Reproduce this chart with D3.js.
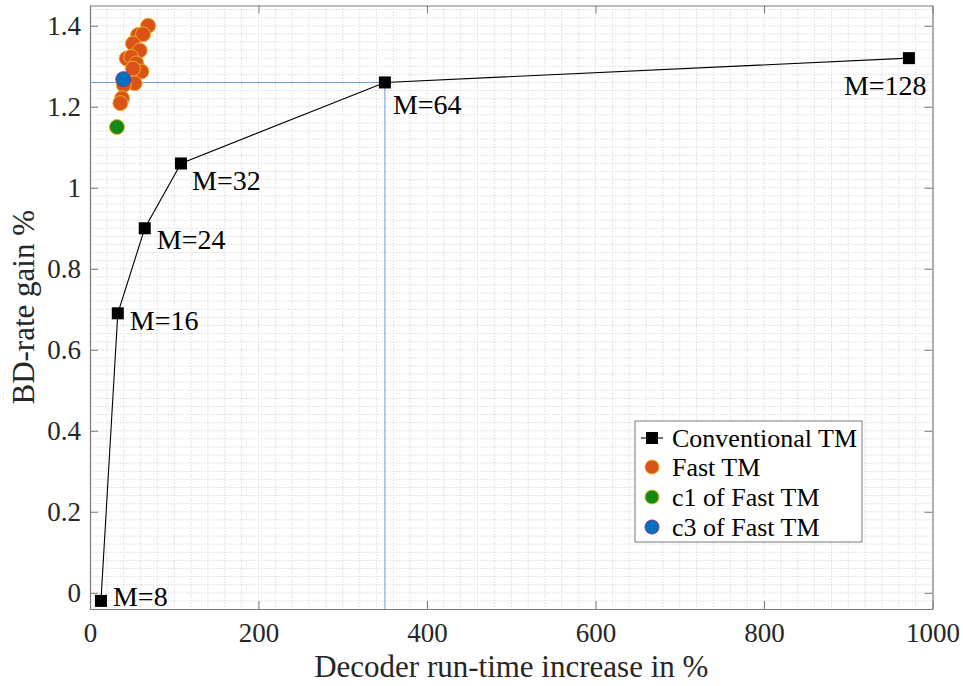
<!DOCTYPE html>
<html>
<head>
<meta charset="utf-8">
<script src="https://cdn.jsdelivr.net/npm/d3@7"></script>
<style>
  html, body { margin: 0; padding: 0; background: #fff; }
  svg { display: block; }
  svg text { font-family: "Liberation Serif", "Times New Roman", serif; }
</style>
</head>
<body>
<svg id="chart" width="963" height="686"></svg>
<script>
// Conventional template matching: window size M vs. run-time / gain
const convLabels = ["M=8", "M=16", "M=24", "M=32", "M=64", "M=128"];
const convTime   = [13, 33, 65, 108, 350, 972];
const convGain   = [-0.02, 0.69, 0.90, 1.06, 1.26, 1.32];

// Fast template matching configurations
const fastTime = [69, 57, 63, 51, 59, 43.5, 49, 55, 61, 51, 53, 40, 38, 36];
const fastGain = [1.40, 1.377, 1.379, 1.356, 1.339, 1.319, 1.323, 1.307, 1.287, 1.294, 1.258, 1.254, 1.221, 1.209];

const c1Time = [32],   c1Gain = [1.15];
const c3Time = [39.5], c3Gain = [1.268];

const xTicks = [0, 200, 400, 600, 800, 1000];
const yTicks = [0, 0.2, 0.4, 0.6, 0.8, 1, 1.2, 1.4];
const legendNames = ["Conventional TM", "Fast TM", "c1 of Fast TM", "c3 of Fast TM"];

const FONT = "'Liberation Serif', 'Times New Roman', serif";
const svg = d3.select("#chart");
const plot = { left: 90, right: 932.5, top: 5.5, bottom: 609 };

const x = d3.scaleLinear().domain([0, 1000]).range([plot.left, plot.right]);
const y = d3.scaleLinear().domain([-0.04, 1.45]).range([plot.bottom, plot.top]);

// minor grid (dotted)
const grid = svg.append("g");
d3.range(20, 1000, 20).forEach(v => {
  grid.append("line").attr("x1", x(v)).attr("x2", x(v)).attr("y1", plot.top).attr("y2", plot.bottom)
    .attr("stroke", "#dcdcdc").attr("stroke-width", 1).attr("stroke-dasharray", "1.5,1.5");
});
d3.range(-2, 145, 2).map(v => v / 100).filter(v => v > -0.04 && v < 1.45).forEach(v => {
  grid.append("line").attr("x1", plot.left).attr("x2", plot.right).attr("y1", y(v)).attr("y2", y(v))
    .attr("stroke", "#dcdcdc").attr("stroke-width", 1).attr("stroke-dasharray", "1.5,1.5");
});

// axes with inward ticks on all four sides
const tickLen = 8;
const axisColor = "#7a7a7a";
const axB = svg.append("g").attr("transform", `translate(0,${plot.bottom})`)
  .call(d3.axisBottom(x).tickValues(xTicks).tickSizeInner(-tickLen).tickSizeOuter(0).tickPadding(14).tickFormat(d3.format("d")));
const axT = svg.append("g").attr("transform", `translate(0,${plot.top})`)
  .call(d3.axisTop(x).tickValues(xTicks).tickSizeInner(-tickLen).tickSizeOuter(0).tickFormat(""));
const axL = svg.append("g").attr("transform", `translate(${plot.left},0)`)
  .call(d3.axisLeft(y).tickValues(yTicks).tickSizeInner(-tickLen).tickSizeOuter(0).tickPadding(9).tickFormat(d => String(+d.toFixed(1))));
const axR = svg.append("g").attr("transform", `translate(${plot.right},0)`)
  .call(d3.axisRight(y).tickValues(yTicks).tickSizeInner(-tickLen).tickSizeOuter(0).tickFormat(""));
[axB, axT, axL, axR].forEach(a => {
  a.attr("font-family", FONT).attr("font-size", 27);
  a.select(".domain").attr("stroke", axisColor).attr("stroke-width", 1.2);
  a.selectAll(".tick line").attr("stroke", axisColor).attr("stroke-width", 1);
  a.selectAll(".tick text").attr("fill", "#262626");
});
axB.selectAll(".tick text").attr("dy", "0.71em");

// axis titles
svg.append("text").attr("x", (plot.left + plot.right) / 2).attr("y", 677)
  .attr("text-anchor", "middle").attr("fill", "#262626").attr("font-size", 31)
  .text("Decoder run-time increase in %");
svg.append("text").attr("transform", `translate(34,${(plot.top + plot.bottom) / 2}) rotate(-90)`)
  .attr("text-anchor", "middle").attr("fill", "#262626").attr("font-size", 31)
  .text("BD-rate gain %");

// guide lines at the M=64 operating point
const refT = convTime[4], refG = convGain[4];
svg.append("line").attr("x1", plot.left).attr("x2", x(refT)).attr("y1", y(refG)).attr("y2", y(refG))
  .attr("stroke", "#6a9fcf").attr("stroke-width", 1);
svg.append("line").attr("x1", x(refT)).attr("x2", x(refT)).attr("y1", y(refG)).attr("y2", plot.bottom)
  .attr("stroke", "#6a9fcf").attr("stroke-width", 1);

// conventional curve
const conv = convTime.map((t, i) => ({ t, g: convGain[i], label: convLabels[i] }));
svg.append("path").datum(conv)
  .attr("d", d3.line().x(d => x(d.t)).y(d => y(d.g)))
  .attr("fill", "none").attr("stroke", "#000").attr("stroke-width", 1.1);
const sq = 12;
svg.selectAll("rect.conv").data(conv).join("rect").attr("class", "conv")
  .attr("x", d => x(d.t) - sq / 2).attr("y", d => y(d.g) - sq / 2)
  .attr("width", sq).attr("height", sq).attr("fill", "#000");

// point labels (offsets relative to each marker)
const labelOffsets = [[12, 5], [12, 17], [12, 21], [11, 27], [8, 32], [-65, 37]];
svg.selectAll("text.mlabel").data(conv).join("text").attr("class", "mlabel")
  .attr("x", (d, i) => x(d.t) + labelOffsets[i][0])
  .attr("y", (d, i) => y(d.g) + labelOffsets[i][1])
  .attr("fill", "#000").attr("font-size", 28).text(d => d.label);

// fast TM scatter
const r = 7.5;
function dots(ts, gs, fill, edge) {
  svg.append("g").selectAll("circle").data(ts.map((t, i) => [t, gs[i]])).join("circle")
    .attr("cx", d => x(d[0])).attr("cy", d => y(d[1])).attr("r", r)
    .attr("fill", fill).attr("stroke", edge).attr("stroke-width", 1);
}
dots(fastTime, fastGain, "#D95319", "#EDB120");
dots(c1Time, c1Gain, "#138a12", "#EDB120");
dots(c3Time, c3Gain, "#0072BD", "#7E2F8E");

// legend
const lg = svg.append("g").attr("transform", "translate(635,421)");
lg.append("rect").attr("width", 227).attr("height", 121).attr("fill", "#fff")
  .attr("stroke", "#7a7a7a").attr("stroke-width", 1);
const rowY = [17, 46, 76, 106];
const symbols = [
  { type: "sq" },
  { type: "c", fill: "#D95319", edge: "#EDB120" },
  { type: "c", fill: "#138a12", edge: "#EDB120" },
  { type: "c", fill: "#0072BD", edge: "#7E2F8E" }
];
legendNames.forEach((name, i) => {
  const cy = rowY[i];
  const s = symbols[i];
  if (s.type === "sq") {
    lg.append("line").attr("x1", 6).attr("x2", 28).attr("y1", cy).attr("y2", cy).attr("stroke", "#000").attr("stroke-width", 1.1);
    lg.append("rect").attr("x", 17 - 6).attr("y", cy - 6).attr("width", 12).attr("height", 12).attr("fill", "#000");
  } else {
    lg.append("circle").attr("cx", 17).attr("cy", cy).attr("r", 7).attr("fill", s.fill).attr("stroke", s.edge);
  }
  lg.append("text").attr("x", 37).attr("y", cy).attr("dy", "0.35em")
    .attr("fill", "#000").attr("font-size", 26).text(name);
});

svg.selectAll("text").attr("font-family", FONT);
</script>
</body>
</html>
